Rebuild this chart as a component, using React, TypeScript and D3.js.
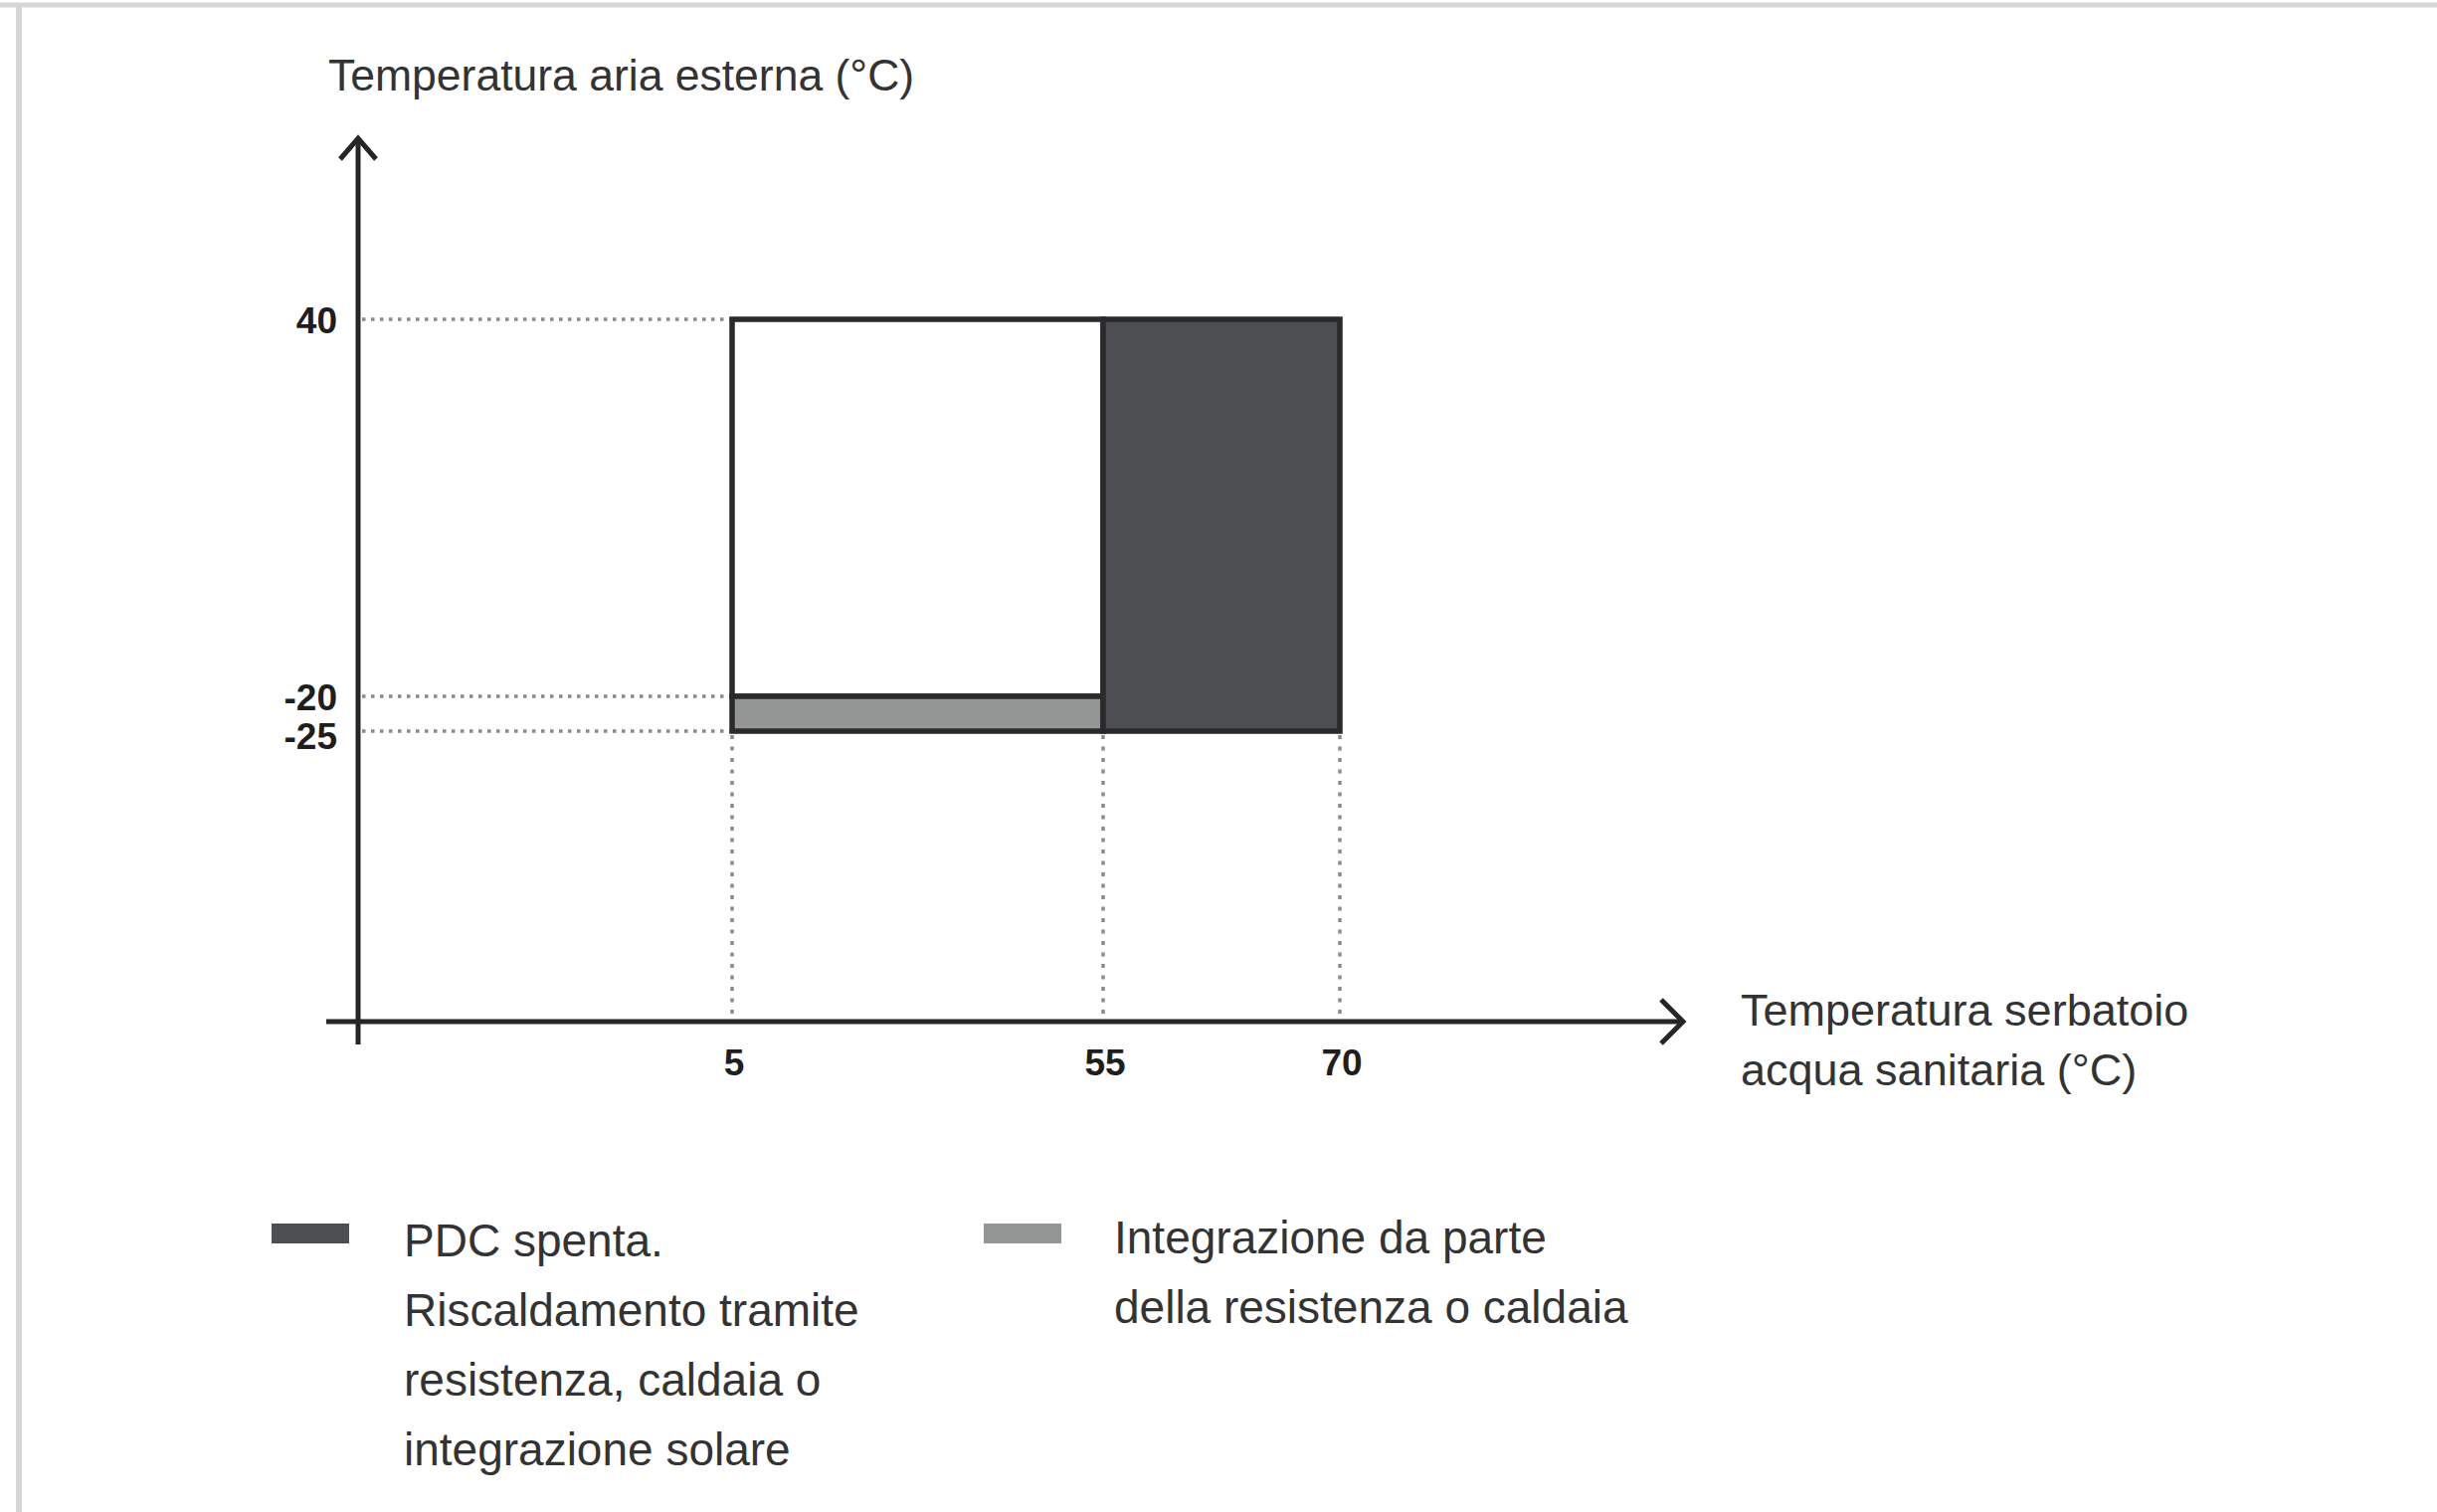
import * as d3 from "d3"

const W = 2450
const H = 1520

// x: temperatura serbatoio acqua sanitaria (°C), y: temperatura aria esterna (°C)
const xTicks = [5, 55, 70]
const yTicks = [40, -20, -25]

// operating regions of the chart
const regionKinds = ["hp", "integration", "off"]
const regionX0 = [5, 5, 55]
const regionX1 = [55, 55, 70]
const regionY0 = [-20, -25, -25]
const regionY1 = [40, -20, 40]

const legendKinds = ["off", "integration"]
const legendLines = [
  ["PDC spenta.", "Riscaldamento tramite", "resistenza, caldaia o", "integrazione solare"],
  ["Integrazione da parte", "della resistenza o caldaia"],
]

const yTitle = "Temperatura aria esterna (°C)"
const xTitle = ["Temperatura serbatoio", "acqua sanitaria (°C)"]

const fills: Record<string, string> = {
  hp: "#ffffff",
  integration: "#939695",
  off: "#4d4e51",
}

export default function App() {
  // the picture is schematic, so the scales are piecewise linear
  const x = d3.scaleLinear().domain([5, 55, 70]).range([736, 1109, 1347])
  const y = d3.scaleLinear().domain([-25, -20, 40]).range([735, 700, 321])

  const originX = 360
  const originY = 1027
  const axisColor = "#262626"
  const font = "'Liberation Sans', Arial, sans-serif"

  const regions = regionKinds.map((k, i) => ({
    kind: k,
    x0: regionX0[i],
    x1: regionX1[i],
    y0: regionY0[i],
    y1: regionY1[i],
  }))

  const line = d3.line()

  return (
    <svg
      width={W}
      height={H}
      style={{ position: "absolute", left: 0, top: 0, background: "#fff" }}
      fontFamily={font}
    >
      {/* page frame */}
      <line x1={0} x2={W} y1={5} y2={5} stroke="#d6d6d6" strokeWidth={5} />
      <line x1={19} x2={19} y1={5} y2={H} stroke="#d6d6d6" strokeWidth={6} />

      {/* guide lines */}
      {yTicks.map((v) => (
        <line
          key={"hy" + v}
          x1={originX + 4}
          x2={x(5)}
          y1={y(v)}
          y2={y(v)}
          stroke="#8a8a8a"
          strokeWidth={3.5}
          strokeDasharray="3.5,5.5"
        />
      ))}
      {xTicks.map((v) => (
        <line
          key={"vx" + v}
          x1={x(v)}
          x2={x(v)}
          y1={y(-25) + 4}
          y2={originY}
          stroke="#8a8a8a"
          strokeWidth={3.5}
          strokeDasharray="4,7.5"
        />
      ))}

      {/* regions */}
      {regions.map((r, i) => (
        <rect
          key={i}
          x={x(r.x0)}
          y={y(r.y1)}
          width={x(r.x1) - x(r.x0)}
          height={y(r.y0) - y(r.y1)}
          fill={fills[r.kind]}
          stroke="#2a2a2a"
          strokeWidth={5.5}
        />
      ))}

      {/* axes */}
      <line x1={originX} x2={originX} y1={140} y2={1050} stroke={axisColor} strokeWidth={5} />
      <line x1={328} x2={1690} y1={originY} y2={originY} stroke={axisColor} strokeWidth={5} />
      <path
        d={line([[342, 160], [360, 139], [378, 160]]) as string}
        fill="none"
        stroke={axisColor}
        strokeWidth={5}
      />
      <path
        d={line([[1670, 1005], [1692, 1027], [1670, 1049]]) as string}
        fill="none"
        stroke={axisColor}
        strokeWidth={5}
      />

      {/* tick labels */}
      {yTicks.map((v) => (
        <text
          key={"yl" + v}
          x={339}
          y={y(v) + (v === -25 ? 5 : 1)}
          textAnchor="end"
          dominantBaseline="central"
          fontSize={37}
          fontWeight={700}
          fill="#1e1e1e"
        >
          {v < 0 ? "-" + Math.abs(v) : v}
        </text>
      ))}
      {xTicks.map((v) => (
        <text
          key={"xl" + v}
          x={x(v) + 2}
          y={1068}
          textAnchor="middle"
          dominantBaseline="central"
          fontSize={37}
          fontWeight={700}
          fill="#1e1e1e"
        >
          {v}
        </text>
      ))}

      {/* axis titles */}
      <text x={330} y={91} fontSize={44.5} fill="#333">
        {yTitle}
      </text>
      {xTitle.map((t, i) => (
        <text key={t} x={1750} y={1031 + i * 60} fontSize={45} fill="#333">
          {t}
        </text>
      ))}

      {/* legend */}
      {legendKinds.map((k, i) => {
        const sx = i === 0 ? 273 : 989
        const tx = i === 0 ? 406 : 1120
        const ty = i === 0 ? 1263 : 1260
        return (
          <g key={k}>
            <rect x={sx} y={1230} width={78} height={20} fill={fills[k]} />
            {legendLines[i].map((t, j) => (
              <text key={j} x={tx} y={ty + j * 70} fontSize={46} fill="#333">
                {t}
              </text>
            ))}
          </g>
        )
      })}
    </svg>
  )
}
